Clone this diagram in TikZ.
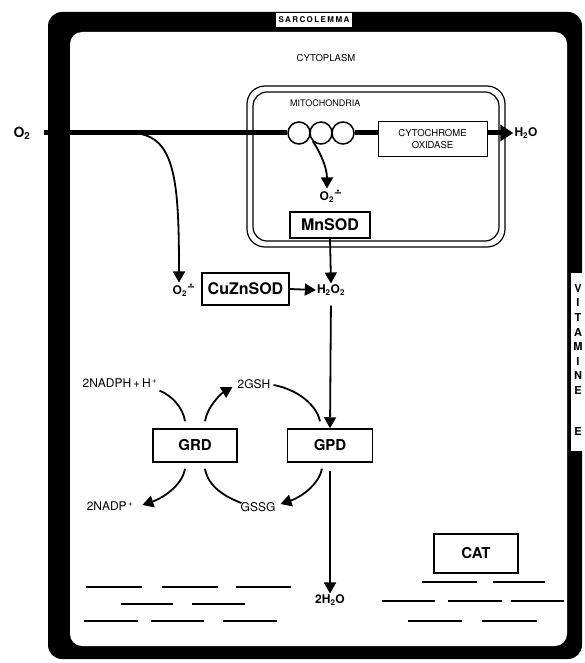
\documentclass[tikz,border=0pt]{standalone}
\usepackage{fontspec}
\setmainfont{TeX Gyre Heros}
\newfontfamily\djv{DejaVu Sans}
\usetikzlibrary{arrows.meta,calc}
\pgfdeclarelayer{bg}
\pgfsetlayers{bg,main}
\newcommand{\supox}{O\textsubscript{2}\raisebox{4.5pt}{\djv\fontsize{10}{10}\selectfont ∸}}
\tikzset{
  enz/.style={draw, line width=1.5pt, fill=white, inner sep=0pt,
    font=\fontsize{15}{16}\selectfont\bfseries},
  lbl/.style={inner sep=1pt, font=\fontsize{12}{13}\selectfont},
  blbl/.style={inner sep=1pt, font=\fontsize{12}{13}\selectfont\bfseries},
  conn/.style={line width=1.8pt, -{Triangle[length=11pt,width=12pt]}},
  plainc/.style={line width=1.8pt},
  dashrow/.style={line width=1.6pt},
  circ/.style={circle, draw, line width=1.5pt, fill=white, minimum size=22pt, inner sep=0pt}
}
\begin{document}
\begin{tikzpicture}[x=1pt,y=-1pt]
\useasboundingbox (0,0) rectangle (584,663);
% frame (sarcolemma)
\begin{pgfonlayer}{bg}
\fill[black, rounded corners=14pt] (48,12) rectangle (582,659);
\fill[white, rounded corners=12pt] (70,32) rectangle (567,646);
\fill[white] (571,273) rectangle (584,451);
% mitochondria
\draw[line width=1.2pt, rounded corners=18pt] (247,86) rectangle (505,247);
\draw[line width=1.2pt, rounded corners=14pt] (253,92) rectangle (499,241);
\end{pgfonlayer}

\node[fill=white, inner sep=0pt, minimum height=14pt, minimum width=76pt,
      font=\fontsize{8}{9}\selectfont\bfseries\addfontfeature{LetterSpace=18}] (sarc) at (314,20) {SARCOLEMMA};
\node[lbl, font=\fontsize{9.5}{10}\selectfont] (cytop) at (326,58) {CYTOPLASM};
\node[lbl, font=\fontsize{9}{10}\selectfont, anchor=west] (mito) at (289,103) {MITOCHONDRIA};

\node[anchor=north, inner sep=0pt, align=center, font=\fontsize{11}{14.6}\selectfont\bfseries] (vite) at (578,284) {V\\I\\T\\A\\M\\I\\N\\E\\[26pt]E};

% O2 path
\node[blbl, font=\fontsize{14}{15}\selectfont\bfseries] (o2) at (22,133) {O\textsubscript{2}};
\node[blbl] (h2oa) at (526,133) {H\textsubscript{2}O};
\node[draw, line width=1pt, fill=white, minimum width=109pt, minimum height=35pt, inner sep=0pt,
      align=center, font=\fontsize{9.5}{12}\selectfont] (cyt) at (432.5,139.5) {CYTOCHROME\\OXIDASE};
\node[circ] (c1) at (299,133) {};
\node[circ] (c2) at (321,133) {};
\node[circ] (c3) at (343,133) {};
\coordinate (branch) at (130,133);
\begin{pgfonlayer}{bg}
\draw[line width=5pt] ([xshift=12pt]o2.east) -- (c1.west);
\draw[line width=5pt] (c3.east) -- (cyt.west |- c3.east);
\end{pgfonlayer}
\draw[line width=5pt, -{Triangle[length=13pt,width=16pt]}] (cyt.east |- c3.east) -- (h2oa.west);

% superoxide in mitochondria
\node[blbl] (o2m) at (331,196) {\supox};
\draw[conn] (c2.south west) .. controls +(6,8) and +(0,-22) .. ($(o2m.north)+(-4,0)$);
\node[enz, minimum width=80pt, minimum height=26pt, font=\fontsize{16}{17}\selectfont\bfseries] (mnsod) at (330,225) {MnSOD};

% cytosolic superoxide
\node[blbl] (o2l) at (184,290) {\supox};
\draw[conn] (branch) .. controls +(45,0) and +(0,-105) .. ($(o2l.north)+(-5,0)$);
\node[enz, minimum width=87pt, minimum height=32pt, font=\fontsize{16}{17}\selectfont\bfseries] (cuzn) at (245.5,289) {CuZnSOD};
\node[blbl] (h2o2) at (331,290) {H\textsubscript{2}O\textsubscript{2}};
\draw[conn] (mnsod.south) -- (h2o2.north);
\draw[conn] (cuzn.east) -- (h2o2.west);

% glutathione cycle
\node[enz, minimum width=84pt, minimum height=33pt] (grd) at (195,445.5) {GRD};
\node[enz, minimum width=85pt, minimum height=33pt] (gpd) at (330,445.5) {GPD};
\draw[conn, shorten <=9pt] (h2o2.south) -- (gpd.north);

\node[lbl] (nadph) at (120,383) {2NADPH\,+\,H\textsuperscript{\,+}};
\node[lbl] (gsh) at (254,384) {2GSH};
\node[lbl] (nadp) at (110,506) {2NADP\textsuperscript{\,+}};
\node[lbl] (gssg) at (258,507) {GSSG};
\node[blbl] (h2ob) at (330,600) {2H\textsubscript{2}O};

\draw[plainc] ($(nadph.south east)+(1,2)$) .. controls +(12,5) and +(-2,-14) .. ($(grd.north)+(-10,-7)$);
\draw[conn] ($(grd.north)+(10,-7)$) .. controls +(2,-14) and +(-12,7) .. ($(gsh.west)+(-4,3)$);
\draw[plainc] ($(gsh.east)+(2,1)$) .. controls +(22,4) and +(-4,-18) .. ($(gpd.north)+(-10,-7)$);
\draw[conn] ($(grd.south)+(-10,6)$) .. controls +(-3,18) and +(18,-6) .. ($(nadp.east)+(8,-1)$);
\draw[plainc] ($(grd.south)+(10,6)$) .. controls +(3,18) and +(-16,-6) .. ($(gssg.west)+(2,-4)$);
\draw[conn] ($(gpd.south)+(-8,6)$) .. controls +(-4,18) and +(18,-6) .. ($(gssg.east)+(4,-3)$);
\draw[conn, shorten <=8pt] (gpd.south) -- (h2ob.north);

% catalase
\node[enz, minimum width=84pt, minimum height=39pt] (cat) at (476,553.5) {CAT};

% membranes (dashes)
\draw[dashrow] (86,587) -- (142,587) (162,587) -- (218,587) (236,587) -- (291,587);
\draw[dashrow] (121,604) -- (173,604) (192,604) -- (245,604);
\draw[dashrow] (84,621) -- (138,621) (151,621) -- (204,621) (223,621) -- (277,621);
\draw[dashrow] (422,582) -- (477,582) (493,582) -- (545,582);
\draw[dashrow] (382,601) -- (435,601) (448,601) -- (502,601) (511,601) -- (564,601);
\draw[dashrow] (408,621) -- (462,621) (482,621) -- (537,621);
\end{tikzpicture}
\end{document}
